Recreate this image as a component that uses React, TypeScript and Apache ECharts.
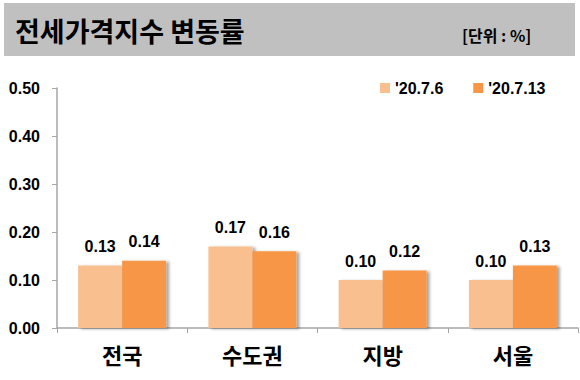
import React, { useEffect, useRef } from "react";
import * as echarts from "echarts";

const categories = ["전국", "수도권", "지방", "서울"];
const seriesNames = ["'20.7.6", "'20.7.13"];
const week1 = [0.13, 0.17, 0.1, 0.1];
const week2 = [0.14, 0.16, 0.12, 0.13];
const yTicks = [0, 0.1, 0.2, 0.3, 0.4, 0.5];

const FONT = "'Liberation Sans', 'Noto Sans CJK KR', sans-serif";
const KFONT = "'Noto Sans CJK KR', 'Liberation Sans', sans-serif";

export default function App() {
  const ref = useRef<HTMLDivElement>(null);
  useEffect(() => {
    if (!ref.current) return;
    const chart = echarts.init(ref.current, null, { renderer: "svg" });
    const shadow = {
      shadowColor: "rgba(0,0,0,0.35)",
      shadowBlur: 3,
      shadowOffsetX: 3,
      shadowOffsetY: 1,
    };
    const label = {
      show: true,
      position: "top" as const,
      distance: 11,
      fontFamily: FONT,
      fontWeight: "bold" as const,
      fontSize: 16,
      color: "#000",
      formatter: (p: any) => Number(p.value).toFixed(2),
    };
    chart.setOption({
      animation: false,
      backgroundColor: "#fff",
      graphic: [
        {
          type: "rect",
          shape: { x: 4, y: 3, width: 571, height: 53 },
          style: { fill: "#c0c0c0" },
          silent: true,
        },
        {
          type: "text",
          x: 15,
          y: 30,
          style: {
            text: "전세가격지수 변동률",
            fontFamily: KFONT,
            fontWeight: "bold",
            fontSize: 27,
            fill: "#000",
            verticalAlign: "middle",
          },
        },
        {
          type: "text",
          x: 462,
          y: 35,
          style: {
            text: "[단위 : %]",
            fontFamily: KFONT,
            fontWeight: "bold",
            fontSize: 16,
            fill: "#000",
            verticalAlign: "middle",
          },
        },
      ],
      legend: {
        data: seriesNames,
        left: 375,
        top: 75,
        itemWidth: 10,
        itemHeight: 10,
        itemGap: 30,
        icon: "rect",
        textStyle: {
          fontFamily: FONT,
          fontWeight: "bold",
          fontSize: 16,
          color: "#000",
        },
      },
      grid: { left: 57, right: 2, top: 88, bottom: 52 },
      xAxis: {
        type: "category",
        data: categories,
        axisLine: { lineStyle: { color: "#a6a6a6", width: 1.5 } },
        axisTick: { show: true, length: 5, lineStyle: { color: "#a6a6a6" } },
        axisLabel: {
          fontFamily: KFONT,
          fontWeight: "bold",
          fontSize: 22,
          color: "#000",
          margin: 15,
        },
      },
      yAxis: {
        type: "value",
        min: yTicks[0],
        max: yTicks[yTicks.length - 1],
        interval: 0.1,
        splitLine: { show: false },
        axisLine: { show: true, lineStyle: { color: "#a6a6a6", width: 1.5 } },
        axisTick: { show: true, length: 5, lineStyle: { color: "#a6a6a6" } },
        axisLabel: {
          fontFamily: FONT,
          fontWeight: "bold",
          fontSize: 16,
          color: "#000",
          margin: 17,
          formatter: (v: number) => v.toFixed(2),
        },
      },
      series: [
        {
          name: seriesNames[0],
          type: "bar",
          data: week1,
          barWidth: 44,
          barGap: "0%",
          itemStyle: { color: "#f9bf8f", ...shadow },
          label,
        },
        {
          name: seriesNames[1],
          type: "bar",
          data: week2,
          barWidth: 44,
          barGap: "0%",
          itemStyle: { color: "#f79646", ...shadow },
          label,
        },
      ],
    });
    return () => chart.dispose();
  }, []);
  return (
    <div
      ref={ref}
      style={{ position: "fixed", left: 0, top: 0, width: 580, height: 380 }}
    />
  );
}
